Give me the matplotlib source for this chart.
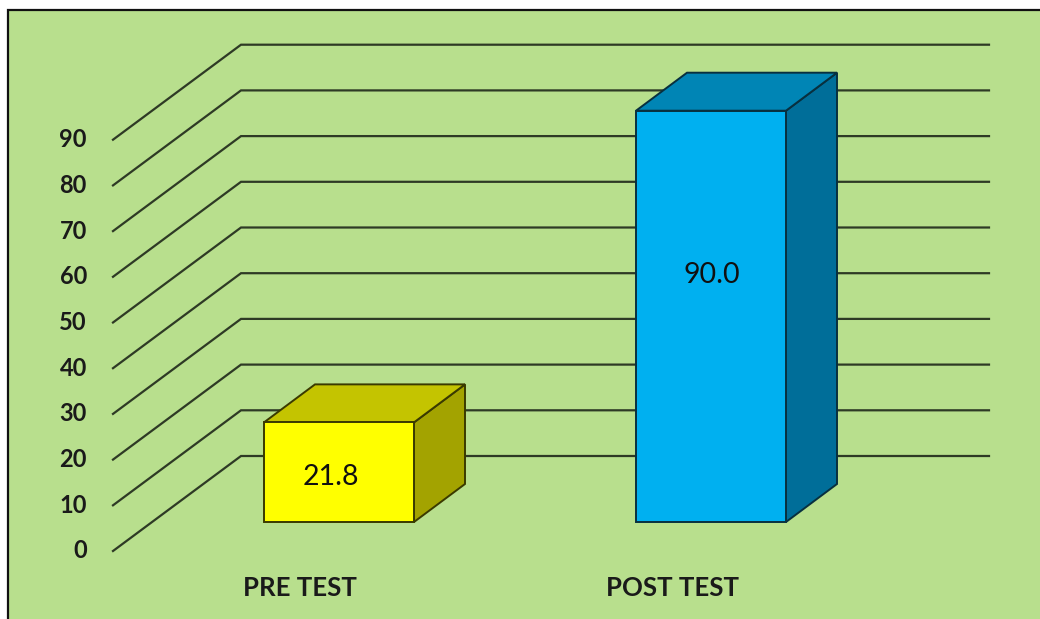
import matplotlib
matplotlib.use("Agg")
import matplotlib.pyplot as plt
from matplotlib.patches import Polygon, Rectangle

categories = ["PRE TEST", "POST TEST"]
values = [21.8, 90.0]
value_labels = ["21.8", "90.0"]
ticks = [0, 10, 20, 30, 40, 50, 60, 70, 80, 90]

front_colors = ["#FFFF00", "#00B0F0"]
top_colors = ["#C4C400", "#0085B5"]
side_colors = ["#A3A300", "#006E99"]
edge_colors = ["#3A3A00", "#08303F"]

plt.rcParams['font.family'] = ['Lato', 'DejaVu Sans']

# pixel layout of the picture
W, H = 1040, 619
px_x = 372.0   # pixels for one category
px_y = 4.57    # pixels for one unit of value
x0_px = 339.0  # centre of first bar
y0_px = 522.0  # bar floor

def dx(p):
    return p / px_x

def dy(p):
    return p / px_y

fig = plt.figure(figsize=(W / 100, H / 100), dpi=100, facecolor="white")
ax = fig.add_axes([0, 0, 1, 1])
ax.set_xlim(-x0_px / px_x, (W - x0_px) / px_x)
ax.set_ylim((y0_px - H) / px_y, y0_px / px_y)
ax.axis("off")

# chart area with black border
ax.add_patch(Rectangle((8 / W, -0.1), 1.1, (H - 10) / H + 0.1, transform=ax.transAxes,
                       facecolor="#B8DF8D", edgecolor="#111111", linewidth=1.6, zorder=0))

# floor/wall lines
wall_left = dx(113 - x0_px)
wall_right = dx(989 - x0_px)
wall_dx = dx(128)
wall_dy = dy(95)
floor_dy = dy(-29)
for t in ticks:
    y = t + floor_dy
    ax.plot([wall_left, wall_left + wall_dx, wall_right], [y, y + wall_dy, y + wall_dy],
            color="#2E3A25", linewidth=1.6, zorder=1, solid_joinstyle="miter")
    ax.text(dx(87 - x0_px), y + dy(0), str(t), ha="right", va="center",
            fontsize=17, fontweight="bold", color="#1A1A1A", zorder=3)

# 3d bars
half = dx(75)
bar_dx = dx(51)
bar_dy = dy(38)
for i, v in enumerate(values):
    l, r = i - half, i + half
    ax.add_patch(Polygon([(r, 0), (r + bar_dx, bar_dy), (r + bar_dx, v + bar_dy), (r, v)],
                         facecolor=side_colors[i], edgecolor=edge_colors[i], linewidth=1.4, zorder=2))
    ax.add_patch(Polygon([(l, v), (r, v), (r + bar_dx, v + bar_dy), (l + bar_dx, v + bar_dy)],
                         facecolor=top_colors[i], edgecolor=edge_colors[i], linewidth=1.4, zorder=2))
    ax.add_patch(Rectangle((l, 0), r - l, v, facecolor=front_colors[i],
                           edgecolor=edge_colors[i], linewidth=1.4, zorder=2.5))

# value labels
value_x = [331, 712]
value_y = [477, 275]
for i, s in enumerate(value_labels):
    ax.text(dx(value_x[i] - x0_px), dy(y0_px - value_y[i]), s, ha="center", va="center",
            fontsize=20.5, color="#101010", zorder=4)

# category labels
label_x = [300, 673]
for i, c in enumerate(categories):
    ax.text(dx(label_x[i] - x0_px), dy(y0_px - 588), c, ha="center", va="center",
            fontsize=18.5, fontweight="bold", color="#1A1A1A", zorder=3)

fig.savefig("out.png", dpi=100, facecolor="white")
